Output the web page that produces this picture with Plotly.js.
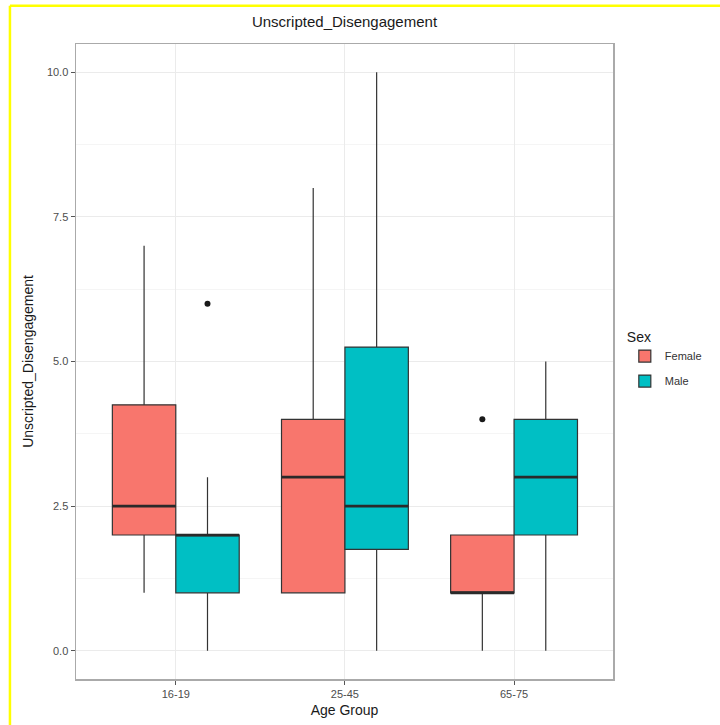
<!DOCTYPE html>
<html>
<head>
<meta charset="utf-8">
<script src="https://cdn.plot.ly/plotly-3.0.1.min.js"></script>
<style>html,body{margin:0;padding:0;background:#fff;}#chart{width:720px;height:725px;}</style>
</head>
<body>
<div id="chart"></div>
<script>
// Data
const ageGroups = ["16-19", "25-45", "65-75"];
const femaleLower = [1, 1, 0];
const femaleQ1 = [2, 1, 1];
const femaleMedian = [2.5, 3, 1];
const femaleQ3 = [4.25, 4, 2];
const femaleUpper = [7, 8, 2];
const femaleOutliers = [[null], [null], [4]];
const maleLower = [0, 0, 0];
const maleQ1 = [1, 1.75, 2];
const maleMedian = [2, 2.5, 3];
const maleQ3 = [2, 5.25, 4];
const maleUpper = [3, 10, 5];
const maleOutliers = [[6], [null], [null]];
const yTicks = [0, 2.5, 5, 7.5, 10];
const yTickText = ["0.0", "2.5", "5.0", "7.5", "10.0"];

const F_COL = "#F8766D", M_COL = "#00BFC4", LINE = "#333333";

function boxTrace(name, color, lo, q1, med, q3, up, pts, og) {
  return {
    type: "box", name: name, x: ageGroups, y: pts,
    lowerfence: lo, q1: q1, median: med, q3: q3, upperfence: up,
    offsetgroup: og, legendgroup: og, fillcolor: color,
    line: {color: LINE, width: 1.2}, whiskerwidth: 0,
    boxpoints: "outliers", jitter: 0, pointpos: 0,
    marker: {color: "#1a1a1a", size: 6, outliercolor: "#1a1a1a", line: {width: 0}},
    hoverinfo: "skip"
  };
}
function medTrace(og, med) {
  return {
    type: "box", x: ageGroups, lowerfence: med, q1: med, median: med, q3: med, upperfence: med,
    offsetgroup: og, legendgroup: og, fillcolor: "rgba(0,0,0,0)", line: {color: "#2a2a2a", width: 2.6},
    whiskerwidth: 0, boxpoints: false, showlegend: false, hoverinfo: "skip"
  };
}

const data = [
  boxTrace("Female", F_COL, femaleLower, femaleQ1, femaleMedian, femaleQ3, femaleUpper, femaleOutliers, "F"),
  boxTrace("Male", M_COL, maleLower, maleQ1, maleMedian, maleQ3, maleUpper, maleOutliers, "M"),
  medTrace("F", femaleMedian),
  medTrace("M", maleMedian)
];

const font = "Liberation Sans, Arial, sans-serif";
const layout = {
  width: 720, height: 725,
  margin: {l: 76, r: 107, t: 44, b: 46},
  paper_bgcolor: "#ffffff", plot_bgcolor: "#ffffff",
  font: {family: font, color: "#4D4D4D"},
  title: {text: "Unscripted_Disengagement", x: 0.5, xref: "paper", y: 0.97, yanchor: "middle",
          font: {family: font, size: 15, color: "#1a1a1a"}},
  boxmode: "group", boxgap: 0.25, boxgroupgap: 0,
  xaxis: {
    type: "category", range: [-0.59, 2.585],
    title: {text: "Age Group", font: {family: font, size: 14, color: "#1a1a1a"}, standoff: 6},
    showgrid: true, gridcolor: "#EBEBEB", gridwidth: 1,
    ticks: "outside", ticklen: 4, tickcolor: "#555", tickwidth: 1,
    tickfont: {size: 11, color: "#4D4D4D"},
    showline: true, linecolor: "#aaaaaa", linewidth: 1.5, mirror: true, zeroline: false
  },
  yaxis: {
    range: [-0.49, 10.49], tickvals: yTicks, ticktext: yTickText,
    title: {text: "Unscripted_Disengagement", font: {family: font, size: 14, color: "#1a1a1a"}, standoff: 10},
    showgrid: true, gridcolor: "#EBEBEB", gridwidth: 1,
    minor: {tickmode: "linear", tick0: 1.25, dtick: 2.5, showgrid: true, gridcolor: "#F5F5F5", gridwidth: 1, ticks: ""},
    ticks: "outside", ticklen: 4, tickcolor: "#555", tickwidth: 1,
    tickfont: {size: 11, color: "#4D4D4D"},
    showline: true, linecolor: "#aaaaaa", linewidth: 1.5, mirror: true, zeroline: false
  },
  legend: {
    title: {text: "Sex", font: {family: font, size: 14, color: "#1a1a1a"}},
    x: 1.022, xanchor: "left", y: 0.56, yanchor: "top",
    font: {family: font, size: 11, color: "#333"}, tracegroupgap: 6, itemwidth: 30,
    bgcolor: "rgba(0,0,0,0)"
  },
  shapes: [
    {type: "line", xref: "paper", yref: "paper", x0: -0.123, x1: 1.3, y0: 1.0601, y1: 1.0601,
     line: {color: "#FFFF00", width: 2.5}},
    {type: "line", xref: "paper", yref: "paper", x0: -0.123, x1: -0.123, y0: 1.0601, y1: -0.08,
     line: {color: "#FFFF00", width: 2.5}}
  ],
  showlegend: true
};
Plotly.newPlot("chart", data, layout, {displayModeBar: false, staticPlot: true});
</script>
</body>
</html>
